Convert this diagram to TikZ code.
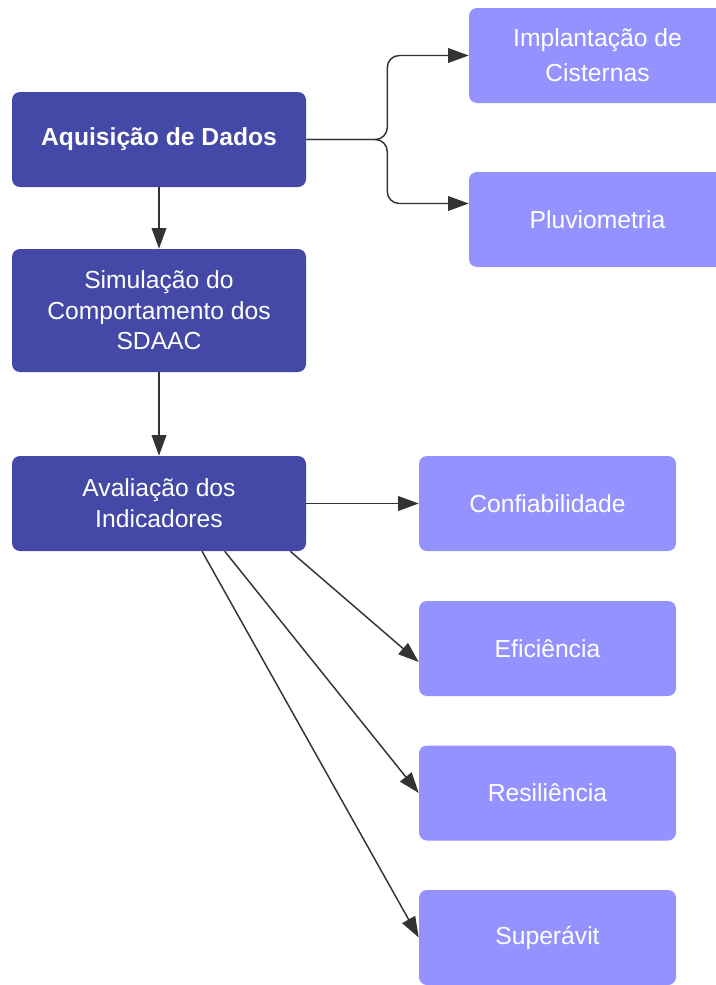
\documentclass[tikz,border=0pt]{standalone}
\usepackage{fontspec}
\setmainfont{Liberation Sans}
\usetikzlibrary{arrows.meta}

\definecolor{escuro}{HTML}{4448A6}
\definecolor{claro}{HTML}{9492FF}
\definecolor{linha}{HTML}{333333}

\tikzset{
    etapa/.style={fill=escuro, text=white, rounded corners=6pt, align=center,
        minimum width=220.5pt, minimum height=71.25pt, inner sep=0pt,
        font=\fontsize{18.5}{23}\selectfont},
    indicador/.style={fill=claro, text=white, rounded corners=6pt, align=center,
        minimum width=192.75pt, minimum height=71.25pt, inner sep=0pt,
        font=\fontsize{18.5}{23}\selectfont},
    seta/.style={->, color=linha, line width=1.1pt},
    >={Triangle[length=15.5pt, width=11pt]}
}

\begin{document}
\begin{tikzpicture}[x=0.75pt, y=-0.75pt]
        \useasboundingbox (0,0) rectangle (716,985);

        \node[etapa] (A) at (159,139.5) {\bfseries Aquisição de Dados};
        \node[etapa, minimum height=92.25pt] (B) at (159,310.5) {Simulação do\\Comportamento dos\\SDAAC};
        \node[etapa] (C) at (159,503.5) {Avaliação dos\\Indicadores};

        \node[indicador, font=\fontsize{18.5}{26}\selectfont] (D) at (597.5,55.5) {Implantação de\\Cisternas};
        \node[indicador] (E) at (597.5,219.5) {Pluviometria};
        \node[indicador] (F) at (547.5,503.5) {Confiabilidade};
        \node[indicador] (G) at (547.5,648.5) {Eficiência};
        \node[indicador] (H) at (547.5,793)   {Resiliência};
        \node[indicador] (I) at (547.5,937.5) {Superávit};

        \draw[seta, rounded corners=9pt] (A.east) -- ++(81,0) |- (D.west);
        \draw[seta, rounded corners=9pt] (A.east) -- ++(81,0) |- ([yshift=12pt]E.west);

        \path[seta]   (A) edge (B);
        \path[seta]   (B) edge (C);
        \path[seta]   (C) edge (F);
        \path[seta]   (C.-20) edge (G.186);
        \path[seta]   (C.-36) edge (H.west);
        \path[seta]   (C.-48) edge (I.west);
    \end{tikzpicture}
\end{document}
